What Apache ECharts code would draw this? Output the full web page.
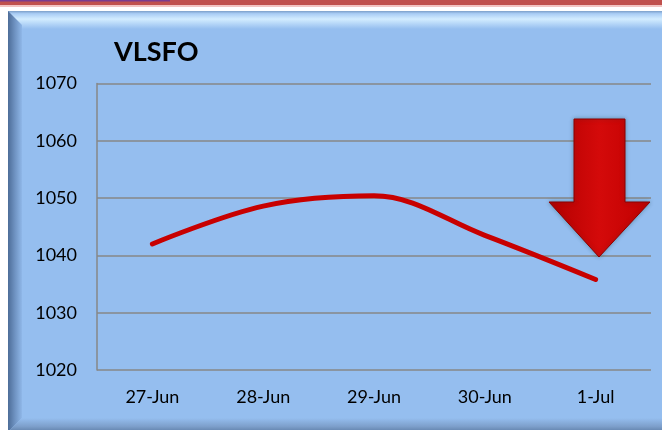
<!DOCTYPE html>
<html><head><meta charset="utf-8">
<script src="https://cdn.jsdelivr.net/npm/echarts@6/dist/echarts.min.js"></script>
<style>html,body{margin:0;padding:0;background:#fff}#c{width:662px;height:430px}</style>
</head><body><div id="c"></div>
<script>
const categories = ['27-Jun', '28-Jun', '29-Jun', '30-Jun', '1-Jul'];
const vlsfoValues = [1042, 1048.6, 1050.4, 1043.5, 1035.8];
const yTicks = [1020, 1030, 1040, 1050, 1060, 1070];
const chartTitle = 'VLSFO';

const chart = echarts.init(document.getElementById('c'), null, {renderer: 'canvas'});
const font = 'Lato, "Open Sans", sans-serif';
chart.setOption({
  backgroundColor: '#ffffff',
  animation: false,
  graphic: [
    {type: 'rect', z: -10, shape: {x: 0, y: 0, width: 662, height: 5}, style: {fill: '#C0504D'}},
    {type: 'rect', z: -9, shape: {x: 0, y: 0, width: 170, height: 1.5}, style: {fill: '#7a3b8f'}},
    {type: 'rect', z: -10, shape: {x: 0, y: 5, width: 662, height: 2}, style: {fill: '#f2c4c2'}},
    {type: 'rect', z: -10, shape: {x: 8, y: 11, width: 660, height: 425}, style: {fill: '#95BEEF'}},
    {type: 'rect', z: -9, shape: {x: 8, y: 11, width: 660, height: 18},
      style: {fill: new echarts.graphic.LinearGradient(0, 0, 0, 1, [
        {offset: 0, color: '#7c9fc9'}, {offset: 0.15, color: '#a9cdf5'},
        {offset: 0.45, color: '#d2ecff'}, {offset: 1, color: '#95BEEF'}])}},
    {type: 'polygon', z: -8, shape: {points: [[8, 11], [22, 25], [22, 418], [8, 432]]},
      style: {fill: new echarts.graphic.LinearGradient(0, 0, 1, 0, [
        {offset: 0, color: '#4d6d98'}, {offset: 0.5, color: '#6f93c2'}, {offset: 1, color: '#8fb7e8'}])}},
    {type: 'polygon', z: -8, shape: {points: [[22, 418], [662, 418], [662, 432], [8, 432]]},
      style: {fill: new echarts.graphic.LinearGradient(0, 0, 0, 1, [
        {offset: 0, color: '#95BEEF'}, {offset: 0.6, color: '#7d9fcb'}, {offset: 1, color: '#5f7fa8'}])}},
    {type: 'text', z: 10, left: 114, top: 39,
      style: {text: chartTitle, font: 'bold 27px ' + font, fill: '#000'}},
    {type: 'polygon', z: 20,
      shape: {points: [[574, 119], [625, 119], [625, 202], [650, 202], [599, 257], [549, 202], [574, 202]]},
      style: {fill: new echarts.graphic.LinearGradient(0, 0, 1, 0, [
        {offset: 0, color: '#b30000'}, {offset: 0.5, color: '#d40a0a'}, {offset: 1, color: '#c00000'}]),
        stroke: '#8e0000', lineWidth: 1,
        shadowColor: 'rgba(0,60,60,0.35)', shadowBlur: 4}}
  ],
  grid: {left: 97, right: 11, top: 83.5, bottom: 60},
  xAxis: {
    type: 'category', data: categories, boundaryGap: true,
    axisLine: {show: false}, axisTick: {show: false},
    axisLabel: {color: '#000', fontSize: 18, fontFamily: font, margin: 18}
  },
  yAxis: {
    type: 'value', min: 1020, max: 1070, interval: 10,
    axisLine: {show: true, lineStyle: {color: '#878787', width: 1.5}},
    axisTick: {show: false},
    splitLine: {lineStyle: {color: '#878787', width: 1.5}},
    axisLabel: {color: '#000', fontSize: 18, fontFamily: font, margin: 20,
      formatter: v => yTicks.includes(v) ? String(v) : ''}
  },
  series: [{
    type: 'line', data: vlsfoValues, smooth: 0.35, symbol: 'none',
    lineStyle: {color: '#C80000', width: 5, cap: 'round'}
  }]
});
</script></body></html>
